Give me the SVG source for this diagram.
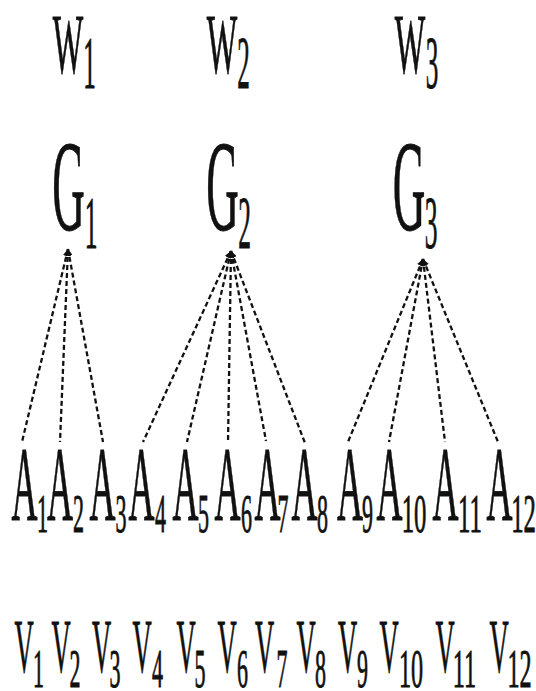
<svg xmlns="http://www.w3.org/2000/svg" width="536" height="691" viewBox="0 0 536 691">
<defs>
<style>
text{font-family:"Liberation Serif","Times New Roman",serif;fill:#111;text-anchor:middle;stroke:#111;stroke-width:0.7;vector-effect:non-scaling-stroke}
.w{font-size:85px}.ws{font-size:74px}
.g{font-size:129px}.gs{font-size:75px}
.a{font-size:106px}.as{font-size:55px}
.v{font-size:76px}.vs{font-size:55px}
.c{stroke:#111;stroke-width:2.3;stroke-dasharray:5 3;fill:none;marker-start:url(#tip)}
</style>
<marker id="tip" viewBox="0 0 10 10" refX="10" refY="5" markerWidth="3" markerHeight="3" orient="auto-start-reverse" markerUnits="strokeWidth">
<path d="M0,0 L10,5 L0,10 Z" fill="#111"/>
</marker>
</defs>
<rect width="536" height="691" fill="#fff"/>
<g id="connectors">
<line class="c" x1="68" y1="249" x2="22" y2="442"/>
<line class="c" x1="68" y1="249" x2="60" y2="442"/>
<line class="c" x1="68" y1="249" x2="103" y2="442"/>
<line class="c" x1="231" y1="251" x2="143" y2="442"/>
<line class="c" x1="231" y1="251" x2="187" y2="442"/>
<line class="c" x1="231" y1="251" x2="228" y2="442"/>
<line class="c" x1="231" y1="251" x2="266" y2="441"/>
<line class="c" x1="231" y1="251" x2="305" y2="443"/>
<line class="c" x1="423" y1="259" x2="348" y2="442"/>
<line class="c" x1="423" y1="259" x2="389" y2="442"/>
<line class="c" x1="423" y1="259" x2="445" y2="442"/>
<line class="c" x1="423" y1="259" x2="498" y2="442"/>
</g>
<g id="W1"><text class="w" transform="translate(68,73) scale(0.38,1)">W</text><text class="ws" transform="translate(89.5,88) scale(0.34,1)">1</text></g>
<g id="W2"><text class="w" transform="translate(222,73) scale(0.38,1)">W</text><text class="ws" transform="translate(243.5,88) scale(0.34,1)">2</text></g>
<g id="W3"><text class="w" transform="translate(410,73) scale(0.38,1)">W</text><text class="ws" transform="translate(432,88) scale(0.34,1)">3</text></g>
<g id="G1"><text class="g" transform="translate(68.5,230) scale(0.35,1)">G</text><text class="gs" transform="translate(91,248) scale(0.34,1)">1</text></g>
<g id="G2"><text class="g" transform="translate(222.5,230) scale(0.35,1)">G</text><text class="gs" transform="translate(244.5,248) scale(0.34,1)">2</text></g>
<g id="G3"><text class="g" transform="translate(409,230) scale(0.35,1)">G</text><text class="gs" transform="translate(431,248) scale(0.34,1)">3</text></g>
<g id="A1"><text class="a" transform="translate(24.5,520) scale(0.34,1)">A</text><text class="as" transform="translate(42.5,532) scale(0.4,1)">1</text></g>
<g id="A2"><text class="a" transform="translate(60,520) scale(0.34,1)">A</text><text class="as" transform="translate(78.5,532) scale(0.4,1)">2</text></g>
<g id="A3"><text class="a" transform="translate(102.5,520) scale(0.34,1)">A</text><text class="as" transform="translate(121,532) scale(0.4,1)">3</text></g>
<g id="A4"><text class="a" transform="translate(141.5,520) scale(0.34,1)">A</text><text class="as" transform="translate(160.5,532) scale(0.4,1)">4</text></g>
<g id="A5"><text class="a" transform="translate(185.5,520) scale(0.34,1)">A</text><text class="as" transform="translate(203.5,532) scale(0.4,1)">5</text></g>
<g id="A6"><text class="a" transform="translate(227.5,520) scale(0.34,1)">A</text><text class="as" transform="translate(246.5,532) scale(0.4,1)">6</text></g>
<g id="A7"><text class="a" transform="translate(267.5,520) scale(0.34,1)">A</text><text class="as" transform="translate(283,532) scale(0.4,1)">7</text></g>
<g id="A8"><text class="a" transform="translate(304.5,520) scale(0.34,1)">A</text><text class="as" transform="translate(322.5,532) scale(0.4,1)">8</text></g>
<g id="A9"><text class="a" transform="translate(350,520) scale(0.34,1)">A</text><text class="as" transform="translate(367.5,532) scale(0.4,1)">9</text></g>
<g id="A10"><text class="a" transform="translate(389.5,520) scale(0.34,1)">A</text><text class="as" transform="translate(414,532) scale(0.45,1)">10</text></g>
<g id="A11"><text class="a" transform="translate(445.5,520) scale(0.34,1)">A</text><text class="as" transform="translate(470,532) scale(0.45,1)">11</text></g>
<g id="A12"><text class="a" transform="translate(499.5,520) scale(0.34,1)">A</text><text class="as" transform="translate(523.5,532) scale(0.45,1)">12</text></g>
<g id="V1"><text class="v" transform="translate(24,672) scale(0.35,1)">V</text><text class="vs" transform="translate(38.5,687) scale(0.4,1)">1</text></g>
<g id="V2"><text class="v" transform="translate(61,672) scale(0.35,1)">V</text><text class="vs" transform="translate(75,687) scale(0.4,1)">2</text></g>
<g id="V3"><text class="v" transform="translate(101.5,672) scale(0.35,1)">V</text><text class="vs" transform="translate(115,687) scale(0.4,1)">3</text></g>
<g id="V4"><text class="v" transform="translate(142,672) scale(0.35,1)">V</text><text class="vs" transform="translate(157.5,687) scale(0.4,1)">4</text></g>
<g id="V5"><text class="v" transform="translate(186,672) scale(0.35,1)">V</text><text class="vs" transform="translate(200,687) scale(0.4,1)">5</text></g>
<g id="V6"><text class="v" transform="translate(227,672) scale(0.35,1)">V</text><text class="vs" transform="translate(242.5,687) scale(0.4,1)">6</text></g>
<g id="V7"><text class="v" transform="translate(264.5,672) scale(0.35,1)">V</text><text class="vs" transform="translate(282,687) scale(0.4,1)">7</text></g>
<g id="V8"><text class="v" transform="translate(306,672) scale(0.35,1)">V</text><text class="vs" transform="translate(320.5,687) scale(0.4,1)">8</text></g>
<g id="V9"><text class="v" transform="translate(347.5,672) scale(0.35,1)">V</text><text class="vs" transform="translate(362.5,687) scale(0.4,1)">9</text></g>
<g id="V10"><text class="v" transform="translate(389,672) scale(0.35,1)">V</text><text class="vs" transform="translate(411,687) scale(0.44,1)">10</text></g>
<g id="V11"><text class="v" transform="translate(445,672) scale(0.35,1)">V</text><text class="vs" transform="translate(464.5,687) scale(0.44,1)">11</text></g>
<g id="V12"><text class="v" transform="translate(499,672) scale(0.35,1)">V</text><text class="vs" transform="translate(519.5,687) scale(0.44,1)">12</text></g>
</svg>
